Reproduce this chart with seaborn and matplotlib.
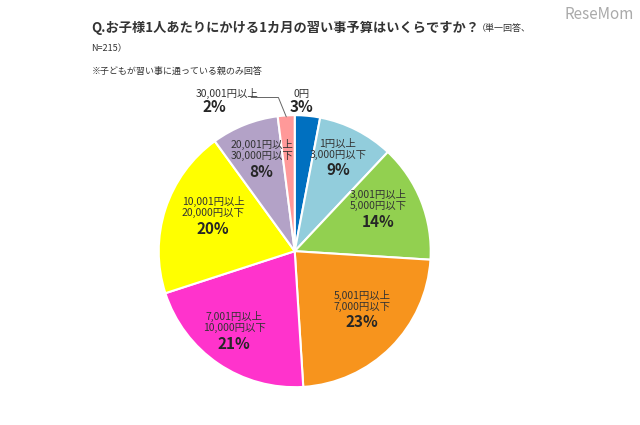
import numpy as np
import matplotlib.pyplot as plt
import seaborn as sns

sns.set_theme(style="white")
plt.rcParams["font.family"] = "Noto Sans CJK JP"

labels = ["0円", "1円以上\n3,000円以下", "3,001円以上\n5,000円以下", "5,001円以上\n7,000円以下",
          "7,001円以上\n10,000円以下", "10,001円以上\n20,000円以下", "20,001円以上\n30,000円以下",
          "30,001円以上"]
values = [3, 9, 14, 23, 21, 20, 8, 2]
colors = ["#0070C0", "#92CDDC", "#92D050", "#F7941D", "#FF33CC", "#FFFF00", "#B3A2C7", "#FF9999"]
label_r = [1.0, 0.70, 0.66, 0.70, 0.79, 0.63, 0.66, 1.0]

fig = plt.figure(figsize=(6.4, 4.25), dpi=100)
fig.text(0.143, 0.925, "Q.お子様1人あたりにかける1カ月の習い事予算はいくらですか？", fontsize=9.5,
         fontweight="bold", color="#333333")
fig.text(0.745, 0.927, "（単一回答、", fontsize=6.5, color="#333333")
fig.text(0.143, 0.88, "N=215）", fontsize=6.5, color="#333333")
fig.text(0.143, 0.825, "※子どもが習い事に通っている親のみ回答", fontsize=6.5, color="#333333")
fig.text(0.99, 0.985, "ReseMom", fontsize=11, color="#aaaaaa", ha="right", va="top")

ax = fig.add_axes([0.248, 0.089, 0.425, 0.64])
wedges, _ = ax.pie(values, colors=colors, startangle=90, counterclock=False,
                   wedgeprops=dict(edgecolor="white", linewidth=1.5))
ax.set_xlim(-1, 1)
ax.set_ylim(-1, 1)
ax.set_aspect("equal")
ax.axis("off")

for i, w in enumerate(wedges):
    ang = np.deg2rad((w.theta1 + w.theta2) / 2)
    if i == 0:
        ax.text(0.05, 1.12, labels[i], ha="center", va="bottom", fontsize=7.5, color="#333333", clip_on=False)
        ax.text(0.05, 1.0, f"{values[i]}%", ha="center", va="bottom", fontsize=11, fontweight="bold", clip_on=False)
        continue
    if i == len(values) - 1:
        x0, y0 = 0.99 * np.cos(ang), 0.99 * np.sin(ang)
        ax.plot([x0, -0.12, -0.32], [y0, 1.13, 1.13], color="#666666", lw=0.7, clip_on=False)
        ax.text(-0.5, 1.12, labels[i], ha="center", va="bottom", fontsize=7.5, color="#333333", clip_on=False)
        ax.text(-0.59, 1.0, f"{values[i]}%", ha="center", va="bottom", fontsize=11, fontweight="bold", clip_on=False)
        continue
    x, y = label_r[i] * np.cos(ang), label_r[i] * np.sin(ang)
    ax.text(x, y + 0.05, labels[i], ha="center", va="bottom", fontsize=7.5, color="#333333",
            linespacing=1.1)
    ax.text(x, y + 0.03, f"{values[i]}%", ha="center", va="top", fontsize=11, fontweight="bold")

fig.savefig("out.png", dpi=100)
